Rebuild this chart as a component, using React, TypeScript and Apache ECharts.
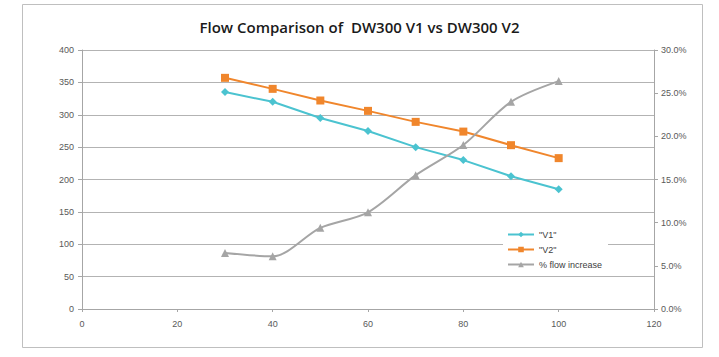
import React, { useEffect, useRef } from "react";
import * as echarts from "echarts";

const xValues = [30, 40, 50, 60, 70, 80, 90, 100];
const v1 = [335, 320, 295, 275, 250, 230, 205, 185];
const v2 = [357, 340, 322, 306, 289, 274, 253, 233];
const pctIncrease = [0.065, 0.061, 0.094, 0.112, 0.155, 0.19, 0.24, 0.264];
const seriesNames = ['"V1"', '"V2"', "% flow increase"];
const titleText = "Flow Comparison of  DW300 V1 vs DW300 V2";

export default function App() {
  const ref = useRef<HTMLDivElement>(null);
  useEffect(() => {
    if (!ref.current) return;
    const chart = echarts.init(ref.current, undefined, { renderer: "svg" });
    const labelStyle = { color: "#595959", fontSize: 9, fontFamily: "Liberation Sans, Arial, sans-serif" };
    const axisLine = { show: true, lineStyle: { color: "#a6a6a6", width: 1 } };
    chart.setOption({
      animation: false,
      backgroundColor: "#ffffff",
      graphic: [
        {
          type: "rect",
          shape: { x: 22.5, y: 4.5, width: 680, height: 343 },
          style: { fill: "none", stroke: "#bfbfbf", lineWidth: 1 },
          z: -1,
        },
      ],
      title: {
        text: titleText,
        left: "center",
        top: 14,
        textStyle: { fontSize: 15, fontWeight: 600, color: "#1a1a1a", fontFamily: "Open Sans, sans-serif" },
      },
      grid: { left: 82, right: 65, top: 50, bottom: 48 },
      legend: {
        orient: "vertical",
        left: 503,
        top: 228,
        itemGap: 6,
        itemWidth: 26,
        itemHeight: 7,
        backgroundColor: "#ffffff",
        padding: [2, 6, 2, 4],
        data: seriesNames,
        textStyle: { ...labelStyle, color: "#404040" },
      },
      xAxis: {
        type: "value",
        min: 0,
        max: 120,
        interval: 20,
        axisLine,
        axisTick: { show: true, inside: false, length: 3, lineStyle: { color: "#a6a6a6" } },
        axisLabel: { ...labelStyle, margin: 10 },
        splitLine: { show: false },
      },
      yAxis: [
        {
          type: "value",
          min: 0,
          max: 400,
          interval: 50,
          axisLine,
          axisTick: { show: true, length: 4, lineStyle: { color: "#a6a6a6" } },
          axisLabel: { ...labelStyle, margin: 8 },
          splitLine: { show: true, lineStyle: { color: "#b3b3b3", width: 1 } },
        },
        {
          type: "value",
          min: 0,
          max: 0.3,
          interval: 0.05,
          position: "right",
          axisLine,
          axisTick: { show: true, length: 4, lineStyle: { color: "#a6a6a6" } },
          axisLabel: { ...labelStyle, margin: 7, formatter: (v: number) => (v * 100).toFixed(1) + "%" },
          splitLine: { show: false },
        },
      ],
      series: [
        {
          name: seriesNames[0],
          type: "line",
          data: xValues.map((x, i) => [x, v1[i]]),
          symbol: "diamond",
          symbolSize: 8,
          lineStyle: { color: "#4bc3d0", width: 2 },
          itemStyle: { color: "#4bc3d0" },
        },
        {
          name: seriesNames[1],
          type: "line",
          data: xValues.map((x, i) => [x, v2[i]]),
          symbol: "rect",
          symbolSize: 8,
          lineStyle: { color: "#f0862c", width: 2 },
          itemStyle: { color: "#f0862c" },
        },
        {
          name: seriesNames[2],
          type: "line",
          yAxisIndex: 1,
          data: xValues.map((x, i) => [x, pctIncrease[i]]),
          symbol: "triangle",
          symbolSize: 8,
          smooth: 0.3,
          lineStyle: { color: "#a5a5a5", width: 2 },
          itemStyle: { color: "#a5a5a5" },
        },
      ],
    });
    return () => chart.dispose();
  }, []);
  return <div ref={ref} style={{ width: 719, height: 357, position: "absolute", left: 0, top: 0 }} />;
}
